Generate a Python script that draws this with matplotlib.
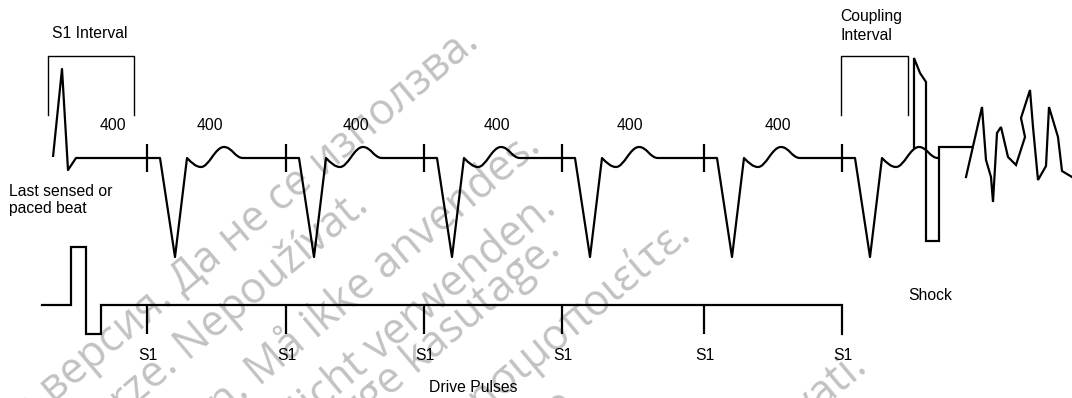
import matplotlib
matplotlib.use("Agg")
import matplotlib.pyplot as plt
from matplotlib.path import Path
from matplotlib.patches import PathPatch

# ---------------- data (schematic units = pixels of the 1072x398 drawing) -------------
s1_x = [147, 286, 424, 562, 704, 842]                 # S1 drive pulse times
interval_values = ["400", "400", "400", "400", "400", "400"]
interval_label_x = [113, 210, 356, 497, 630, 778]
s1_labels = ["S1", "S1", "S1", "S1", "S1", "S1"]

# fibrillation trace after the shock
fib_x = [966, 982, 986, 991, 993, 997, 1001, 1008, 1016, 1025, 1021, 1030, 1033,
         1038, 1046, 1049, 1058, 1062, 1072]
fib_y = [177, 107, 160, 177, 202, 133, 127, 157, 165, 137, 118, 90, 127,
         180, 166, 107, 137, 171, 177]

# watermark lines (grey, diagonal) and where each one ends
wm_lines = ["Остаряла версия. Да не се използва.",
            "Zastaralá verze. Nepoužívat.",
            "Forældet version. Må ikke anvendes.",
            "Veraltete Version. Nicht verwenden.",
            "Aegunud versioon. Ärge kasutage.",
            "Παλιά έκδοση. Μην τη χρησιμοποιείτε.",
            "Outdated version. Do not use.",
            "Zastarjela verzija. Nemojte upotrebljavati."]
wm_end_x = [481, 370, 543, 558, 562, 693, 586, 869]
wm_end_y = [45, 208, 149, 211, 252, 238, 401, 370]

# ---------------- figure -------------
W, H = 1072, 398
fig = plt.figure(figsize=(W / 100, H / 100), dpi=100)
ax = fig.add_axes([0, 0, 1, 1])
ax.set_xlim(0, W)
ax.set_ylim(H, 0)
ax.axis("off")

FONT = ["Liberation Sans", "DejaVu Sans"]
FS = 11.3
LW = 1.6
BASE = 158        # ECG baseline
TROUGH = 257      # QRS depth
DRIVE = 305       # drive-pulse baseline

# watermark
for txt, x, y in zip(wm_lines, wm_end_x, wm_end_y):
    ax.text(x, y, txt, rotation=40, rotation_mode="anchor", ha="right", va="baseline",
            fontsize=31, color="#c2c2c2", family=["Open Sans", "DejaVu Sans"], zorder=0)

# ECG trace
M, L, C = Path.MOVETO, Path.LINETO, Path.CURVE4
verts = [(53, 157), (62, 69), (68, 170), (76, BASE)]
codes = [M, L, L, L]
for t in s1_x:
    verts += [(t + 13, BASE), (t + 28, TROUGH), (t + 40, BASE)]
    codes += [L, L, L]
    verts += [(t + 45, 163), (t + 49, 167), (t + 54, 167),
              (t + 62, 167), (t + 68, 147), (t + 77, 147),
              (t + 85, 147), (t + 88, BASE), (t + 96, BASE)]
    codes += [C] * 9
ax.add_patch(PathPatch(Path(verts, codes), fill=False, lw=LW, ec="black",
                       joinstyle="round", zorder=3))

# S1 marks on the ECG
ax.vlines(s1_x, 144, 172, color="black", lw=LW, zorder=3)

# shock waveform
shock = [(914, 147), (914, 58), (920, 73), (926, 82), (926, 241), (939, 241),
         (939, 147), (972, 147)]
ax.plot([p[0] for p in shock], [p[1] for p in shock], color="black", lw=LW,
        solid_joinstyle="miter", zorder=3)
ax.plot(fib_x, fib_y, color="black", lw=LW, solid_joinstyle="miter", zorder=3)

# drive pulses line
drive = [(42, DRIVE), (71, DRIVE), (71, 247), (86, 247), (86, 334), (101, 334),
         (101, DRIVE), (s1_x[-1], DRIVE), (s1_x[-1], 334)]
ax.plot([p[0] for p in drive], [p[1] for p in drive], color="black", lw=LW,
        solid_joinstyle="miter", zorder=3)
ax.vlines(s1_x[:-1], DRIVE, 334, color="black", lw=LW, zorder=3)

# brackets
ax.plot([48, 48, 134, 134], [115, 56, 56, 115], color="black", lw=1.0, zorder=3)
ax.plot([841, 841, 908, 908], [115, 56, 56, 115], color="black", lw=1.0, zorder=3)

# texts
ax.text(52, 33, "S1 Interval", fontsize=FS, family=FONT, ha="left", va="center")
for x, v in zip(interval_label_x, interval_values):
    ax.text(x, 126, v, fontsize=FS, family=FONT, ha="center", va="center")
ax.text(9, 191, "Last sensed or", fontsize=FS, family=FONT, ha="left", va="center")
ax.text(9, 209, "paced beat", fontsize=FS, family=FONT, ha="left", va="center")
ax.text(840, 17, "Coupling", fontsize=FS, family=FONT, ha="left", va="center")
ax.text(840, 35, "Interval", fontsize=FS, family=FONT, ha="left", va="center")
ax.text(930, 296, "Shock", fontsize=FS, family=FONT, ha="center", va="center")
for x, s in zip(s1_x, s1_labels):
    ax.text(x + 1, 356, s, fontsize=FS, family=FONT, ha="center", va="center")
ax.text(473, 388, "Drive Pulses", fontsize=FS, family=FONT, ha="center", va="center")

fig.savefig("out.png", dpi=100, facecolor="white")
